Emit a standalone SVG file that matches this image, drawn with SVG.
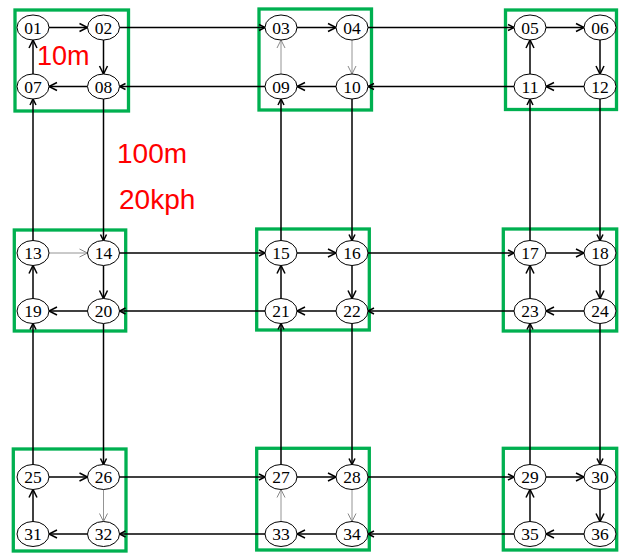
<svg xmlns="http://www.w3.org/2000/svg" width="624" height="553" viewBox="0 0 624 553">
<style>
.blk{fill:none;stroke:#00B050;stroke-width:3.3}
.nd ellipse{fill:#fff;stroke:#000;stroke-width:1}
.nd text{font-family:"Liberation Serif",serif;font-size:17.5px;text-anchor:middle;fill:#000}
.e{stroke:#000;stroke-width:1.5;fill:none;marker-end:url(#ah)}
.g{stroke:#888;stroke-width:0.9;fill:none;marker-end:url(#ag)}
.x{stroke:#000;stroke-width:1.5;fill:none;marker-end:url(#as)}
.lbl{font-family:"Liberation Sans",Arial,sans-serif;fill:#FF0000}
</style>
<defs>
<marker id="ah" markerUnits="userSpaceOnUse" markerWidth="12" markerHeight="12" refX="9" refY="5" orient="auto" viewBox="0 0 12 10">
<path d="M1,1 L9,5 L1,9" fill="none" stroke="#000" stroke-width="1.5"/>
</marker>
<marker id="as" markerUnits="userSpaceOnUse" markerWidth="9" markerHeight="9" refX="7" refY="4" orient="auto" viewBox="0 0 9 8">
<path d="M1,1 L7,4 L1,7" fill="none" stroke="#000" stroke-width="1.5"/>
</marker>
<marker id="ag" markerUnits="userSpaceOnUse" markerWidth="12" markerHeight="12" refX="9" refY="5" orient="auto" viewBox="0 0 12 10">
<path d="M1,1 L9,5 L1,9" fill="none" stroke="#888" stroke-width="1"/>
</marker>
</defs>

<g id="blocks">
<rect class="blk" x="15" y="10" width="113.5" height="101"/>
<rect class="blk" x="259" y="9" width="112.5" height="101"/>
<rect class="blk" x="505.5" y="10" width="111" height="99.5"/>
<rect class="blk" x="14.3" y="230" width="111.4" height="101"/>
<rect class="blk" x="256.7" y="229" width="112.6" height="101"/>
<rect class="blk" x="503.3" y="229" width="113.4" height="102"/>
<rect class="blk" x="13.3" y="449" width="112.7" height="102"/>
<rect class="blk" x="256.7" y="448.3" width="112.6" height="101.7"/>
<rect class="blk" x="503.3" y="448.3" width="113.4" height="101.7"/>
</g>

<g id="connectors">
<line class="e" x1="49" y1="27.5" x2="87.5" y2="27.5"/>
<line class="e" x1="103.5" y1="40" x2="103.5" y2="74"/>
<line class="e" x1="87.5" y1="86.5" x2="49" y2="86.5"/>
<line class="e" x1="33" y1="74" x2="33" y2="40"/>
<line class="e" x1="297" y1="27.5" x2="336" y2="27.5"/>
<line class="g" x1="352" y1="40" x2="352" y2="74"/>
<line class="e" x1="336" y1="86.5" x2="297" y2="86.5"/>
<line class="g" x1="281" y1="74" x2="281" y2="40"/>
<line class="e" x1="546" y1="27.5" x2="584" y2="27.5"/>
<line class="e" x1="600" y1="40" x2="600" y2="74"/>
<line class="e" x1="584" y1="86.5" x2="546" y2="86.5"/>
<line class="e" x1="530" y1="74" x2="530" y2="40"/>
<line class="g" x1="49" y1="253" x2="87.5" y2="253"/>
<line class="e" x1="103.5" y1="265.5" x2="103.5" y2="298.5"/>
<line class="e" x1="87.5" y1="311" x2="49" y2="311"/>
<line class="e" x1="33" y1="298.5" x2="33" y2="265.5"/>
<line class="e" x1="297" y1="253" x2="336" y2="253"/>
<line class="e" x1="352" y1="265.5" x2="352" y2="298.5"/>
<line class="e" x1="336" y1="311" x2="297" y2="311"/>
<line class="e" x1="281" y1="298.5" x2="281" y2="265.5"/>
<line class="e" x1="546" y1="253" x2="584" y2="253"/>
<line class="e" x1="600" y1="265.5" x2="600" y2="298.5"/>
<line class="e" x1="584" y1="311" x2="546" y2="311"/>
<line class="e" x1="530" y1="298.5" x2="530" y2="265.5"/>
<line class="e" x1="49" y1="477" x2="87.5" y2="477"/>
<line class="g" x1="103.5" y1="489.5" x2="103.5" y2="521.5"/>
<line class="e" x1="87.5" y1="534" x2="49" y2="534"/>
<line class="e" x1="33" y1="521.5" x2="33" y2="489.5"/>
<line class="e" x1="297" y1="477" x2="336" y2="477"/>
<line class="g" x1="352" y1="489.5" x2="352" y2="521.5"/>
<line class="e" x1="336" y1="534" x2="297" y2="534"/>
<line class="g" x1="281" y1="521.5" x2="281" y2="489.5"/>
<line class="e" x1="546" y1="477" x2="584" y2="477"/>
<line class="e" x1="600" y1="489.5" x2="600" y2="521.5"/>
<line class="e" x1="584" y1="534" x2="546" y2="534"/>
<line class="e" x1="530" y1="521.5" x2="530" y2="489.5"/>

<line class="x" x1="119.5" y1="27.5" x2="265" y2="27.5"/>
<line class="x" x1="368" y1="27.5" x2="514" y2="27.5"/>
<line class="x" x1="514" y1="86.5" x2="368" y2="86.5"/>
<line class="x" x1="265" y1="86.5" x2="119.5" y2="86.5"/>
<line class="x" x1="119.5" y1="253" x2="265" y2="253"/>
<line class="x" x1="368" y1="253" x2="514" y2="253"/>
<line class="x" x1="514" y1="311" x2="368" y2="311"/>
<line class="x" x1="265" y1="311" x2="119.5" y2="311"/>
<line class="x" x1="119.5" y1="477" x2="265" y2="477"/>
<line class="x" x1="368" y1="477" x2="514" y2="477"/>
<line class="x" x1="514" y1="534" x2="368" y2="534"/>
<line class="x" x1="265" y1="534" x2="119.5" y2="534"/>

<line class="x" x1="33" y1="240.5" x2="33" y2="99"/>
<line class="x" x1="103.5" y1="99" x2="103.5" y2="240.5"/>
<line class="x" x1="281" y1="240.5" x2="281" y2="99"/>
<line class="x" x1="352" y1="99" x2="352" y2="240.5"/>
<line class="x" x1="530" y1="240.5" x2="530" y2="99"/>
<line class="x" x1="600" y1="99" x2="600" y2="240.5"/>
<line class="x" x1="33" y1="464.5" x2="33" y2="323.5"/>
<line class="x" x1="103.5" y1="323.5" x2="103.5" y2="464.5"/>
<line class="x" x1="281" y1="464.5" x2="281" y2="323.5"/>
<line class="x" x1="352" y1="323.5" x2="352" y2="464.5"/>
<line class="x" x1="530" y1="464.5" x2="530" y2="323.5"/>
<line class="x" x1="600" y1="323.5" x2="600" y2="464.5"/>
</g>

<g id="n01" class="nd"><ellipse cx="33" cy="27.5" rx="16" ry="12.5"/><text x="33" y="33.5">01</text></g>
<g id="n02" class="nd"><ellipse cx="103.5" cy="27.5" rx="16" ry="12.5"/><text x="103.5" y="33.5">02</text></g>
<g id="n03" class="nd"><ellipse cx="281" cy="27.5" rx="16" ry="12.5"/><text x="281" y="33.5">03</text></g>
<g id="n04" class="nd"><ellipse cx="352" cy="27.5" rx="16" ry="12.5"/><text x="352" y="33.5">04</text></g>
<g id="n05" class="nd"><ellipse cx="530" cy="27.5" rx="16" ry="12.5"/><text x="530" y="33.5">05</text></g>
<g id="n06" class="nd"><ellipse cx="600" cy="27.5" rx="16" ry="12.5"/><text x="600" y="33.5">06</text></g>
<g id="n07" class="nd"><ellipse cx="33" cy="86.5" rx="16" ry="12.5"/><text x="33" y="92.5">07</text></g>
<g id="n08" class="nd"><ellipse cx="103.5" cy="86.5" rx="16" ry="12.5"/><text x="103.5" y="92.5">08</text></g>
<g id="n09" class="nd"><ellipse cx="281" cy="86.5" rx="16" ry="12.5"/><text x="281" y="92.5">09</text></g>
<g id="n10" class="nd"><ellipse cx="352" cy="86.5" rx="16" ry="12.5"/><text x="352" y="92.5">10</text></g>
<g id="n11" class="nd"><ellipse cx="530" cy="86.5" rx="16" ry="12.5"/><text x="530" y="92.5">11</text></g>
<g id="n12" class="nd"><ellipse cx="600" cy="86.5" rx="16" ry="12.5"/><text x="600" y="92.5">12</text></g>
<g id="n13" class="nd"><ellipse cx="33" cy="253" rx="16" ry="12.5"/><text x="33" y="259">13</text></g>
<g id="n14" class="nd"><ellipse cx="103.5" cy="253" rx="16" ry="12.5"/><text x="103.5" y="259">14</text></g>
<g id="n15" class="nd"><ellipse cx="281" cy="253" rx="16" ry="12.5"/><text x="281" y="259">15</text></g>
<g id="n16" class="nd"><ellipse cx="352" cy="253" rx="16" ry="12.5"/><text x="352" y="259">16</text></g>
<g id="n17" class="nd"><ellipse cx="530" cy="253" rx="16" ry="12.5"/><text x="530" y="259">17</text></g>
<g id="n18" class="nd"><ellipse cx="600" cy="253" rx="16" ry="12.5"/><text x="600" y="259">18</text></g>
<g id="n19" class="nd"><ellipse cx="33" cy="311" rx="16" ry="12.5"/><text x="33" y="317">19</text></g>
<g id="n20" class="nd"><ellipse cx="103.5" cy="311" rx="16" ry="12.5"/><text x="103.5" y="317">20</text></g>
<g id="n21" class="nd"><ellipse cx="281" cy="311" rx="16" ry="12.5"/><text x="281" y="317">21</text></g>
<g id="n22" class="nd"><ellipse cx="352" cy="311" rx="16" ry="12.5"/><text x="352" y="317">22</text></g>
<g id="n23" class="nd"><ellipse cx="530" cy="311" rx="16" ry="12.5"/><text x="530" y="317">23</text></g>
<g id="n24" class="nd"><ellipse cx="600" cy="311" rx="16" ry="12.5"/><text x="600" y="317">24</text></g>
<g id="n25" class="nd"><ellipse cx="33" cy="477" rx="16" ry="12.5"/><text x="33" y="483">25</text></g>
<g id="n26" class="nd"><ellipse cx="103.5" cy="477" rx="16" ry="12.5"/><text x="103.5" y="483">26</text></g>
<g id="n27" class="nd"><ellipse cx="281" cy="477" rx="16" ry="12.5"/><text x="281" y="483">27</text></g>
<g id="n28" class="nd"><ellipse cx="352" cy="477" rx="16" ry="12.5"/><text x="352" y="483">28</text></g>
<g id="n29" class="nd"><ellipse cx="530" cy="477" rx="16" ry="12.5"/><text x="530" y="483">29</text></g>
<g id="n30" class="nd"><ellipse cx="600" cy="477" rx="16" ry="12.5"/><text x="600" y="483">30</text></g>
<g id="n31" class="nd"><ellipse cx="33" cy="534" rx="16" ry="12.5"/><text x="33" y="540">31</text></g>
<g id="n32" class="nd"><ellipse cx="103.5" cy="534" rx="16" ry="12.5"/><text x="103.5" y="540">32</text></g>
<g id="n33" class="nd"><ellipse cx="281" cy="534" rx="16" ry="12.5"/><text x="281" y="540">33</text></g>
<g id="n34" class="nd"><ellipse cx="352" cy="534" rx="16" ry="12.5"/><text x="352" y="540">34</text></g>
<g id="n35" class="nd"><ellipse cx="530" cy="534" rx="16" ry="12.5"/><text x="530" y="540">35</text></g>
<g id="n36" class="nd"><ellipse cx="600" cy="534" rx="16" ry="12.5"/><text x="600" y="540">36</text></g>

<g id="labels">
<text class="lbl" x="37" y="65" font-size="27">10m</text>
<text class="lbl" x="117" y="163" font-size="28">100m</text>
<text class="lbl" x="119" y="209" font-size="28">20kph</text>
</g>
</svg>
